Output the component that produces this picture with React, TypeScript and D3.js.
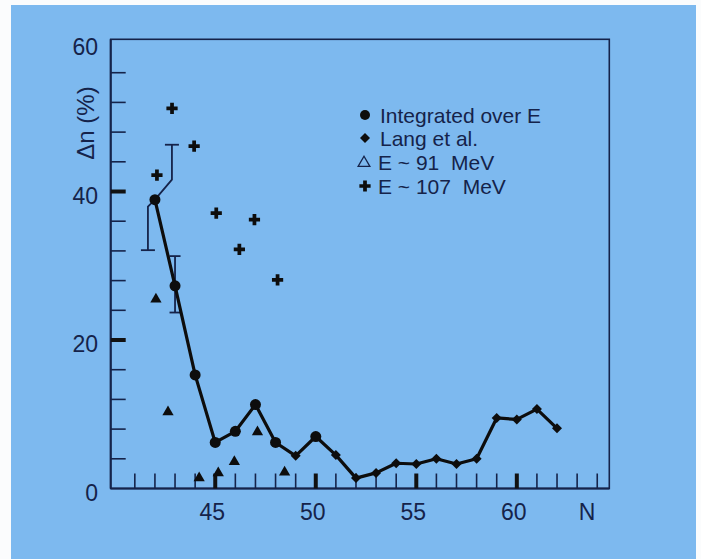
import React from 'react';
import * as d3 from 'd3';

// ---- data ----
const integratedN = [42, 43, 44, 45, 46, 47, 48, 50];
const integratedV = [38.9, 27.3, 15.3, 6.2, 7.7, 11.3, 6.2, 7.0];
const langN = [49, 51, 52, 53, 54, 55, 56, 57, 58, 59, 60, 61, 62];
const langV = [4.4, 4.5, 1.4, 2.1, 3.4, 3.3, 4.0, 3.3, 4.0, 9.5, 9.3, 10.7, 8.1];
const e91N = [42.05, 42.65, 44.2, 45.15, 45.95, 47.1, 48.45];
const e91V = [25.5, 10.3, 1.4, 2.1, 3.6, 7.6, 2.2];
const e107N = [42.1, 42.85, 43.95, 45.05, 46.2, 46.95, 48.1];
const e107V = [42.2, 51.2, 46.1, 37.1, 32.2, 36.2, 28.1];
const errN = [42, 43];
const errCenter = [38.9, 27.3];
const errLow = [32.1, 23.7];
const errHigh = [46.3, 31.3];
const xTicks = d3.range(41, 65);
const xLabelTicks = [45, 50, 55, 60];
const yTicks = d3.range(4, 60, 4);
const yMajorTicks = [20, 40];
const yLabelTicks = [0, 20, 40, 60];
const legendLabels = ['Integrated over E', 'Lang et al.', 'E ~ 91  MeV', 'E ~ 107  MeV'];

const W = 701;
const H = 559;
const BG = '#7db9ef';
const NAVY = '#15234a';
const FONT = '"Liberation Sans", Arial, Helvetica, sans-serif';

export default function App() {
  const x = d3.scaleLinear().domain([39.8, 64.6]).range([110.7, 609.3]);
  const y = d3.scaleLinear().domain([0, 60.5]).range([488.5, 39.3]);

  const linePts = d3
    .zip(integratedN.concat(langN), integratedV.concat(langV))
    .map((d) => [d[0], d[1]] as [number, number])
    .sort((a, b) => a[0] - b[0]);
  const line = d3
    .line<[number, number]>()
    .x((d) => x(d[0]))
    .y((d) => y(d[1]));

  const diamond = d3.symbol().type(d3.symbolSquare).size(50)();
  const tri = d3.symbol().type(d3.symbolTriangle).size(55)();
  const cross = d3.symbol().type(d3.symbolCross).size(70)();

  // error-bar horizontal offsets (style)
  const lowDx = [-7, 0];
  const highDx = [17, 0];
  const lowBend = [7, 0];
  const highBend = [20, 0];
  const capW = [14, 11];

  const legendY = [115, 138, 162, 186];

  return (
    <svg
      width={W}
      height={H}
      style={{ position: 'absolute', left: 0, top: 0, background: '#fff' }}
    >
      <rect x={0} y={0} width={W} height={H} fill="#fbfcfd" />
      <rect x={11} y={5} width={685} height={H} fill={BG} />

      {/* frame */}
      <rect
        x={x(39.8)}
        y={y(60.5)}
        width={x(64.6) - x(39.8)}
        height={y(0) - y(60.5)}
        fill="none"
        stroke={NAVY}
        strokeWidth={1.6}
      />
      <line x1={x(39.8)} x2={x(64.6)} y1={y(0)} y2={y(0)} stroke={NAVY} strokeWidth={2.2} />
      <line x1={x(39.8)} x2={x(39.8)} y1={y(0)} y2={y(60.5)} stroke={NAVY} strokeWidth={2} />

      {/* x ticks */}
      {xTicks.map((t) => {
        const major = xLabelTicks.includes(t);
        return (
          <line
            key={'xt' + t}
            x1={x(t)}
            x2={x(t)}
            y1={y(0)}
            y2={y(0) - 15}
            stroke={major ? '#111' : NAVY}
            strokeWidth={major ? 4 : 1.6}
          />
        );
      })}
      {xLabelTicks.map((t) => (
        <text
          key={'xl' + t}
          x={x(t) - 3}
          y={520}
          fontFamily={FONT}
          fontSize={23}
          fill={NAVY}
          textAnchor="middle"
        >
          {t}
        </text>
      ))}
      <text x={587} y={520} fontFamily={FONT} fontSize={23} fill={NAVY} textAnchor="middle">
        N
      </text>

      {/* y ticks */}
      {yTicks.map((t) => {
        const major = yMajorTicks.includes(t);
        return (
          <line
            key={'yt' + t}
            x1={x(39.8)}
            x2={x(39.8) + 15}
            y1={y(t)}
            y2={y(t)}
            stroke={major ? '#111' : NAVY}
            strokeWidth={major ? 4 : 1.6}
          />
        );
      })}
      {yLabelTicks.map((t) => (
        <text
          key={'yl' + t}
          x={98}
          y={y(t) + 12}
          fontFamily={FONT}
          fontSize={23}
          fill={NAVY}
          textAnchor="end"
        >
          {t}
        </text>
      ))}
      <text
        transform="translate(94,123) rotate(-90)"
        fontFamily={FONT}
        fontSize={24}
        fill={NAVY}
        textAnchor="middle"
        style={{ whiteSpace: 'pre' }}
      >
        Δn (%)
      </text>

      {/* error bars */}
      {errN.map((n, i) => {
        const cx = x(n);
        const cy = y(errCenter[i]);
        const xl = cx + lowDx[i];
        const xh = cx + highDx[i];
        return (
          <g key={'eb' + i} stroke={NAVY} strokeWidth={1.8} fill="none">
            <path d={`M${cx},${cy} L${xl},${cy + lowBend[i]} L${xl},${y(errLow[i])}`} />
            <path d={`M${cx},${cy} L${xh},${cy - highBend[i]} L${xh},${y(errHigh[i])}`} />
            <line x1={xl - capW[i] / 2} x2={xl + capW[i] / 2} y1={y(errLow[i])} y2={y(errLow[i])} />
            <line x1={xh - capW[i] / 2} x2={xh + capW[i] / 2} y1={y(errHigh[i])} y2={y(errHigh[i])} />
          </g>
        );
      })}

      {/* connecting line */}
      <path d={line(linePts) || ''} fill="none" stroke="#0d0d0d" strokeWidth={3.2} strokeLinejoin="round" />

      {/* integrated circles */}
      {integratedN.map((n, i) => (
        <circle key={'ic' + i} cx={x(n)} cy={y(integratedV[i])} r={5.5} fill="#0d0d0d" />
      ))}
      {/* Lang diamonds */}
      {langN.map((n, i) => (
        <path
          key={'ld' + i}
          d={diamond || ''}
          transform={`translate(${x(n)},${y(langV[i])}) rotate(45)`}
          fill="#0d0d0d"
        />
      ))}
      {/* E~91 triangles */}
      {e91N.map((n, i) => (
        <path key={'tr' + i} d={tri || ''} transform={`translate(${x(n)},${y(e91V[i])})`} fill="#0d0d0d" />
      ))}
      {/* E~107 crosses */}
      {e107N.map((n, i) => (
        <path key={'cr' + i} d={cross || ''} transform={`translate(${x(n)},${y(e107V[i])})`} fill="#0d0d0d" />
      ))}

      {/* legend */}
      <circle cx={365} cy={legendY[0]} r={5} fill="#0d0d0d" />
      <path d={diamond || ''} transform={`translate(365,${legendY[1]}) rotate(45)`} fill="#0d0d0d" />
      <path
        d={d3.symbol().type(d3.symbolTriangle).size(60)() || ''}
        transform={`translate(364,${legendY[2] + 1})`}
        fill="none"
        stroke={NAVY}
        strokeWidth={1.3}
      />
      <path d={cross || ''} transform={`translate(365,${legendY[3]})`} fill="#0d0d0d" />
      {legendLabels.map((l, i) => (
        <text
          key={'lg' + i}
          x={i < 2 ? 380 : 378}
          y={legendY[i] + 7.5}
          fontFamily={FONT}
          fontSize={21}
          fill={NAVY}
          style={{ whiteSpace: 'pre' }}
        >
          {l}
        </text>
      ))}
    </svg>
  );
}
